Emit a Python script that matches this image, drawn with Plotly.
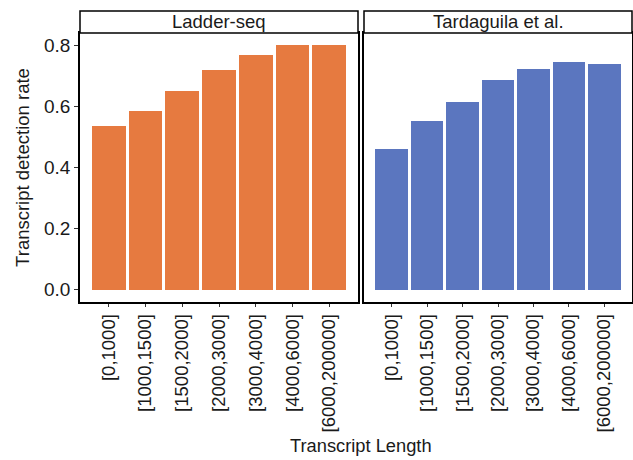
import plotly.graph_objects as go

categories = ["[0,1000]", "[1000,1500]", "[1500,2000]", "[2000,3000]",
              "[3000,4000]", "[4000,6000]", "[6000,200000]"]
ladder_values = [0.536, 0.585, 0.651, 0.719, 0.768, 0.800, 0.800]
tardaguila_values = [0.461, 0.552, 0.614, 0.686, 0.722, 0.745, 0.739]
panel_titles = ["Ladder-seq", "Tardaguila et al."]
y_ticks = [0.0, 0.2, 0.4, 0.6, 0.8]

W, H = 633, 460
FONT = "Liberation Sans, Arial, sans-serif"
ORANGE = "#E67A40"
BLUE = "#5B76BF"

px = lambda v: v / W
py = lambda v: 1 - v / H

panel_x = [(80, 358), (364, 632)]
panel_top, panel_bottom = 33, 302
strip_top = 11

fig = go.Figure()
fig.add_trace(go.Bar(x=categories, y=ladder_values, marker_color=ORANGE,
                     marker_line_width=0, width=0.92, xaxis="x", yaxis="y",
                     showlegend=False))
fig.add_trace(go.Bar(x=categories, y=tardaguila_values, marker_color=BLUE,
                     marker_line_width=0, width=0.92, xaxis="x2", yaxis="y2",
                     showlegend=False))

yrange = [-0.04, 0.84]
xrange = [-0.78, 6.78]
common_x = dict(type="category", range=xrange, showgrid=False, showline=True,
                linecolor="black", linewidth=1.5, mirror=True, ticks="outside",
                ticklen=3, tickcolor="#333", tickangle=-90,
                tickfont=dict(family=FONT, size=18.5, color="#1a1a1a"))
common_y = dict(range=yrange, showgrid=False, showline=True, linecolor="black",
                linewidth=1.5, mirror=True, zeroline=False,
                domain=[py(panel_bottom), py(panel_top)])

fig.update_layout(
    width=W, height=H, margin=dict(l=0, r=0, t=0, b=0),
    plot_bgcolor="white", paper_bgcolor="white", bargap=0,
    xaxis=dict(common_x, domain=[px(panel_x[0][0]), px(panel_x[0][1])], anchor="y"),
    xaxis2=dict(common_x, domain=[px(panel_x[1][0]), px(panel_x[1][1])], anchor="y2"),
    yaxis=dict(common_y, anchor="x", ticks="outside", ticklen=4, tickcolor="#333",
               tickvals=y_ticks, ticktext=[f"{v:.1f}" for v in y_ticks],
               tickfont=dict(family=FONT, size=19, color="#1a1a1a"),
               title=dict(text="Transcript detection rate", standoff=10,
                          font=dict(family=FONT, size=18.5, color="#1a1a1a"))),
    yaxis2=dict(common_y, anchor="x2", showticklabels=False, ticks=""),
)

for (x0, x1), title in zip(panel_x, panel_titles):
    fig.add_shape(type="rect", xref="paper", yref="paper",
                  x0=px(x0), x1=px(x1), y0=py(panel_top), y1=py(strip_top),
                  line=dict(color="black", width=1.5), fillcolor="white")
    fig.add_annotation(xref="paper", yref="paper", x=px((x0 + x1) / 2),
                       y=py((strip_top + panel_top) / 2), text=title,
                       showarrow=False, xanchor="center", yanchor="middle",
                       font=dict(family=FONT, size=18.5, color="#1a1a1a"))

fig.add_annotation(xref="paper", yref="paper", x=px(361), y=py(445),
                   text="Transcript Length", showarrow=False,
                   xanchor="center", yanchor="middle",
                   font=dict(family=FONT, size=18.3, color="#1a1a1a"))

fig.write_html("out.html")
